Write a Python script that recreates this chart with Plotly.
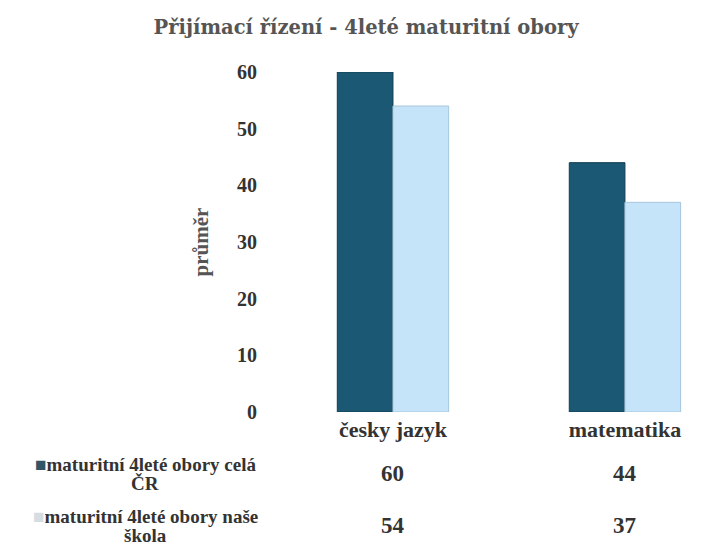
import plotly.graph_objects as go

# data
categories = ["česky jazyk", "matematika"]
series_names = ["maturitní 4leté obory celá\nČR", "maturitní 4leté obory naše\nškola"]
values_cr = [60, 44]
values_skola = [54, 37]
y_ticks = [0, 10, 20, 30, 40, 50, 60]

DARK = "#1b5874"
LIGHT = "#c6e4f9"
SERIF = "Liberation Serif, Times New Roman, serif"
TEXT = "#333333"

fig = go.Figure()
fig.add_trace(go.Bar(x=categories, y=values_cr, name=series_names[0],
                     marker=dict(color=DARK, line=dict(color="#123e52", width=1))))
fig.add_trace(go.Bar(x=categories, y=values_skola, name=series_names[1],
                     marker=dict(color=LIGHT, line=dict(color="#a7c6dc", width=1))))

# data table under the plot (one row per series), y in plot-paper units
table_rows = [(series_names[0], values_cr, "#2f5566", -0.182),
              (series_names[1], values_skola, "#d5dde3", -0.335)]
for label, vals, col, yy in table_rows:
    first, second = label.split("\n")
    fig.add_annotation(text=f"<span style='color:{col}'>■</span>" + first,
                       xref="paper", yref="paper", x=-0.293, y=yy + 0.028,
                       xanchor="center", yanchor="middle", showarrow=False,
                       font=dict(family=SERIF, size=19, color=TEXT, weight="bold"))
    fig.add_annotation(text=second,
                       xref="paper", yref="paper", x=-0.293, y=yy - 0.029,
                       xanchor="center", yanchor="middle", showarrow=False,
                       font=dict(family=SERIF, size=19, color=TEXT, weight="bold"))
    for cat, v in zip(categories, vals):
        fig.add_annotation(text=str(v), x=cat, xref="x", yref="paper", y=yy,
                           showarrow=False, yanchor="middle",
                           font=dict(family=SERIF, size=23, color=TEXT, weight="bold"))

# the page body has an 8px margin, so the figure is drawn 8px smaller
fig.update_layout(
    width=719, height=540,
    margin=dict(l=269, r=0, t=64, b=136),
    paper_bgcolor="white", plot_bgcolor="white",
    barmode="group", bargap=0.52, bargroupgap=0,
    showlegend=False,
    title=dict(text="Přijímací řízení - 4leté maturitní obory",
               x=0.498, xref="container", y=0.965, yref="container",
               xanchor="center", yanchor="middle",
               font=dict(family="DejaVu Serif, serif", size=19.5,
                         color="#555555", weight="bold")),
)
fig.update_xaxes(range=[-0.5, 1.44], showgrid=False, showline=False,
                 automargin=False, ticks="", ticklabelstandoff=2,
                 tickfont=dict(family=SERIF, size=22, color=TEXT, weight="bold"))
fig.update_yaxes(range=[0, 60], tickvals=y_ticks, showgrid=False,
                 zeroline=False, showline=False, ticks="", automargin=False,
                 ticklabelstandoff=19,
                 tickfont=dict(family=SERIF, size=20, color=TEXT, weight="bold"),
                 title=dict(text="průměr", standoff=22,
                            font=dict(family=SERIF, size=21, color="#555555",
                                      weight="bold")))

fig.write_html("out.html")
